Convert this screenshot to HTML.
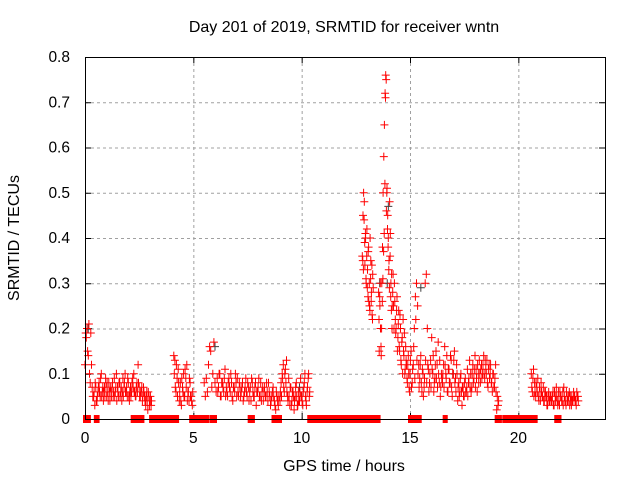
<!DOCTYPE html>
<html><head><meta charset="utf-8"><style>
body{margin:0;background:#fff}
svg{display:block;font-family:"Liberation Sans",sans-serif}
</style></head><body>
<svg id="c" width="640" height="480"></svg>
<script>
const xTicks=[0,5,10,15,20];
const yTicks=[0,0.1,0.2,0.3,0.4,0.5,0.6,0.7,0.8];
const yTickLabels=["0","0.1","0.2","0.3","0.4","0.5","0.6","0.7","0.8"];
const segStarts=[0.0,0.4,0.42,4.1,4.12,5.5,6.1,6.13,9.0,9.02,12.8,12.82,13.55,13.57,14.2,14.22,15.0,15.02,16.5,16.52,19.0,20.6,20.62,21.5,21.52];
const segSteps=[0.03,0.05,0.05,0.05,0.05,0.05,0.06,0.06,0.05,0.05,0.03,0.03,0.03,0.03,0.04,0.04,0.05,0.05,0.05,0.05,0.03,0.05,0.05,0.05,0.05];
const segValues=[
[0.12,0.19,0.18,0.2,0.15,0.14,0.21,0.1,0.08,0.19,0.12,0.07,0.05],
[0.05,0.03,0.07,0.04,0.06,0.08,0.05,0.1,0.06,0.04,0.07,0.09,0.05,0.06,0.08,0.04,0.06,0.07,0.05,0.09,0.06,0.1,0.07,0.05,0.08,0.06,0.04,0.09,0.07,0.1,0.06,0.05,0.08,0.04,0.07,0.06,0.09,0.1,0.06,0.05,0.08,0.12,0.07,0.05,0.06,0.04,0.07,0.05,0.03,0.06,0.02,0.05,0.04,0.03],
[0.06,0.08,0.04,0.05,0.07,0.06,0.09,0.05,0.07,0.06,0.05,0.07,0.08,0.04,0.06,0.07,0.05,0.08,0.06,0.05,0.07,0.04,0.06,0.08,0.05,0.07,0.06,0.05,0.08,0.06,0.07,0.09,0.05,0.06,0.05,0.08,0.07,0.06,0.05,0.07,0.06,0.08,0.05,0.06,0.07,0.05,0.06,0.04,0.05,0.04,0.06,0.03,0.05,0.04],
[0.14,0.13,0.06,0.09,0.11,0.04,0.08,0.03,0.07,0.1,0.05,0.09,0.12,0.06,0.04,0.08,0.05,0.03],
[0.1,0.07,0.12,0.05,0.08,0.06,0.04,0.09,0.06,0.05,0.11,0.07,0.04,0.06,0.09,0.05,0.04,0.06],
[0.08,0.05,0.09,0.06,0.12,0.16,0.15,0.07,0.1,0.17,0.08,0.06],
[0.09,0.07,0.1,0.05,0.08,0.06,0.11,0.07,0.05,0.09,0.06,0.08,0.04,0.07,0.1,0.05,0.06,0.08,0.05,0.07,0.04,0.06,0.09,0.05,0.07,0.06,0.04,0.08,0.05,0.07,0.03,0.06,0.09,0.05,0.04,0.07,0.06,0.05,0.08,0.04,0.06,0.03,0.05,0.07,0.04,0.02,0.05,0.03],
[0.06,0.1,0.05,0.08,0.07,0.09,0.05,0.06,0.08,0.07,0.1,0.05,0.07,0.06,0.08,0.09,0.05,0.07,0.06,0.08,0.05,0.07,0.06,0.08,0.04,0.07,0.09,0.06,0.05,0.08,0.06,0.07,0.05,0.08,0.06,0.04,0.07,0.05,0.06,0.08,0.05,0.04,0.06,0.05,0.03,0.06,0.04,0.05],
[0.04,0.08,0.1,0.12,0.06,0.11,0.13,0.05,0.09,0.03,0.07,0.04,0.06,0.02,0.05,0.08,0.03,0.06,0.04,0.09,0.05,0.03,0.07,0.1,0.04,0.06,0.09,0.05],
[0.06,0.05,0.09,0.07,0.1,0.08,0.06,0.04,0.05,0.07,0.03,0.06,0.05,0.04,0.07,0.05,0.03,0.04,0.06,0.05,0.04,0.06,0.08,0.05,0.03,0.07,0.1,0.06],
[0.36,0.45,0.5,0.48,0.34,0.4,0.3,0.42,0.33,0.37,0.26,0.25,0.4,0.35,0.28,0.23,0.32],
[0.35,0.33,0.44,0.39,0.41,0.31,0.36,0.29,0.27,0.38,0.3,0.24,0.31,0.26,0.34,0.22,0.29],
[0.28,0.15,0.25,0.2,0.14,0.3,0.38,0.5,0.58,0.65,0.72,0.76,0.46,0.51,0.45,0.4,0.35,0.48,0.41,0.3,0.32,0.25],
[0.22,0.27,0.3,0.16,0.2,0.26,0.31,0.37,0.41,0.52,0.71,0.75,0.5,0.42,0.38,0.33,0.29,0.36,0.27,0.24,0.2,0.28],
[0.28,0.25,0.3,0.22,0.2,0.27,0.18,0.24,0.15,0.2,0.12,0.18,0.22,0.14,0.1,0.16,0.12,0.08,0.14,0.07],
[0.32,0.2,0.26,0.19,0.24,0.15,0.21,0.16,0.23,0.13,0.17,0.1,0.15,0.19,0.11,0.13,0.09,0.12,0.1,0.06],
[0.1,0.15,0.08,0.12,0.2,0.27,0.3,0.25,0.12,0.09,0.14,0.06,0.1,0.07,0.3,0.32,0.2,0.11,0.08,0.13,0.18,0.1,0.06,0.09,0.15,0.12,0.17,0.08,0.05,0.1],
[0.13,0.07,0.11,0.16,0.09,0.22,0.13,0.1,0.07,0.12,0.08,0.11,0.05,0.09,0.13,0.08,0.12,0.06,0.1,0.07,0.11,0.14,0.08,0.12,0.09,0.07,0.1,0.13,0.07,0.09],
[0.08,0.12,0.16,0.1,0.14,0.06,0.11,0.08,0.13,0.05,0.1,0.15,0.09,0.12,0.04,0.08,0.06,0.1,0.03,0.07,0.05,0.09,0.06,0.11,0.08,0.13,0.1,0.07,0.12,0.09,0.14,0.11,0.06,0.1,0.13,0.08,0.12,0.1,0.14,0.09,0.11,0.13,0.07,0.12,0.1,0.08,0.06,0.1,0.07,0.12],
[0.1,0.07,0.12,0.09,0.06,0.11,0.08,0.14,0.07,0.1,0.13,0.08,0.06,0.1,0.07,0.05,0.09,0.06,0.07,0.05,0.08,0.06,0.07,0.05,0.09,0.07,0.06,0.1,0.08,0.11,0.07,0.09,0.12,0.08,0.1,0.11,0.09,0.12,0.1,0.13,0.1,0.08,0.11,0.09,0.12,0.08,0.1,0.07,0.09,0.06],
[0.02,0.05,0.03,0.04],
[0.1,0.06,0.11,0.08,0.05,0.07,0.09,0.04,0.06,0.08,0.05,0.07,0.04,0.06,0.05,0.03,0.06,0.04],
[0.07,0.09,0.05,0.06,0.08,0.06,0.05,0.07,0.04,0.06,0.05,0.04,0.06,0.05,0.03,0.05,0.04,0.05],
[0.05,0.04,0.06,0.03,0.05,0.07,0.04,0.06,0.03,0.05,0.04,0.06,0.07,0.04,0.03,0.05,0.04,0.06,0.05,0.03,0.04,0.06,0.05,0.04,0.06,0.05],
[0.04,0.05,0.03,0.06,0.04,0.05,0.03,0.04,0.06,0.05,0.04,0.03,0.05,0.04,0.06,0.04,0.05,0.03,0.04,0.05,0.04,0.05,0.04,0.03,0.05,0.04]
];
const zeroStarts=[0,0.5,2.2,2.5,3.05,4.9,5.85,7.6,8.7,8.85,10.35,13.05,15.0,15.4,16.6,19.0,19.35,21.75];
const zeroEnds=[0.18,0.58,2.35,2.65,4.25,5.65,6.0,7.75,8.75,9.0,12.9,13.55,15.25,15.45,16.65,19.15,20.8,21.9];
const grayTimes=[0.15,6.0,9.9,13.6,13.95,14.0,15.5,17.0];
const grayValues=[0.2,0.16,0.07,0.3,0.3,0.47,0.29,0.1];

const NS="http://www.w3.org/2000/svg";
const svg=document.getElementById('c');
const L=85,R=605,T=57,B=419;
const X=t=>L+(t/24)*(R-L);
const Y=v=>B-(v/0.8)*(B-T);
function mk(tag,a,parent){const e=document.createElementNS(NS,tag);for(const k in a)e.setAttribute(k,a[k]);(parent||svg).appendChild(e);return e;}

const grid=mk('g',{stroke:'#a0a0a0','stroke-dasharray':'3,3','stroke-width':1});


yTicks.forEach(v=>{if(v>0&&v<0.8)mk('line',{x1:L,x2:R,y1:Y(v)+0.5,y2:Y(v)+0.5},grid);});
xTicks.forEach(t=>{if(t>0)mk('line',{x1:X(t)+0.5,x2:X(t)+0.5,y1:T,y2:B},grid);});

const yAx=mk('g',{'font-size':'15.5',fill:'#000','text-anchor':'end'});


yTicks.forEach((v,i)=>{
  mk('line',{x1:L,x2:L+6,y1:Y(v)+0.5,y2:Y(v)+0.5,stroke:'#000'},yAx);
  mk('line',{x1:R-6,x2:R,y1:Y(v)+0.5,y2:Y(v)+0.5,stroke:'#000'},yAx);
  const t=mk('text',{x:L-15,y:Y(v)+5},yAx);t.textContent=yTickLabels[i];
});
const xAx=mk('g',{'font-size':'15.5',fill:'#000','text-anchor':'middle'});


xTicks.forEach(t=>{
  mk('line',{x1:X(t)+0.5,x2:X(t)+0.5,y1:B-6,y2:B,stroke:'#000'},xAx);
  mk('line',{x1:X(t)+0.5,x2:X(t)+0.5,y1:T,y2:T+6,stroke:'#000'},xAx);
  const e=mk('text',{x:X(t),y:B+24},xAx);e.textContent=String(t);
});

const gray=mk('g',{stroke:'#404040','stroke-width':1});


grayTimes.forEach((t,i)=>{const x=X(t),y=Y(grayValues[i]);mk('path',{d:`M${x-4} ${y}H${x+4}M${x} ${y-4}V${y+4}`},gray);});

const red=mk('g',{stroke:'#ff0000','stroke-width':1,fill:'none'});


let d='';
segValues.forEach((vals,s)=>{vals.forEach((v,i)=>{const x=X(segStarts[s]+i*segSteps[s]),y=Y(v);d+=`M${(x-4).toFixed(1)} ${y.toFixed(1)}H${(x+4).toFixed(1)}M${x.toFixed(1)} ${(y-4).toFixed(1)}V${(y+4).toFixed(1)}`;});});
const p=mk('path',{d:d},red);


zeroStarts.forEach((s,i)=>{
  const r=mk('rect',{x:X(s)-2,y:B-4,width:X(zeroEnds[i])-X(s)+4,height:8,fill:'#ff0000',stroke:'none'},red);
  
  
});

const box=mk('rect',{x:L+0.5,y:T+0.5,width:R-L,height:B-T,fill:'none',stroke:'#000'});



const title=mk('text',{x:344,y:32,'font-size':'16','text-anchor':'middle'});
title.textContent='Day 201 of 2019, SRMTID for receiver wntn';


const xl=mk('text',{x:344,y:471,'font-size':'16','text-anchor':'middle'});
xl.textContent='GPS time / hours';


const yl=mk('text',{x:0,y:0,'font-size':'16','text-anchor':'middle',transform:'translate(19,238) rotate(-90)'});
yl.textContent='SRMTID / TECUs';


</script>
</body></html>
